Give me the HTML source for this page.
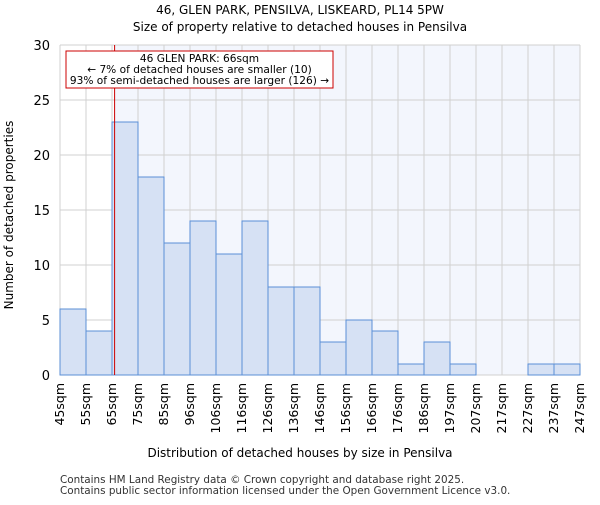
<!DOCTYPE html>
<html><head><meta charset="utf-8"><style>body{margin:0;background:#fff}svg{font-family:"DejaVu Sans","Liberation Sans",sans-serif}</style></head>
<body>
<svg id="c" width="600" height="500"></svg>
<script>
const categories=["45sqm","55sqm","65sqm","75sqm","85sqm","96sqm","106sqm","116sqm","126sqm","136sqm","146sqm","156sqm","166sqm","176sqm","186sqm","197sqm","207sqm","217sqm","227sqm","237sqm","247sqm"];
const counts=[6,4,23,18,12,14,11,14,8,8,3,5,4,1,3,1,0,0,1,1];
const yTicks=[0,5,10,15,20,25,30];
const markerBin=2.1;
const L=60,R=580,T=45,B=375,yMax=30;
const n=counts.length,bw=(R-L)/n;
const x=i=>L+i*bw, y=v=>B-(v/yMax)*(B-T);
const s=document.getElementById('c');const NS='http://www.w3.org/2000/svg';
function el(t,a,txt){const e=document.createElementNS(NS,t);for(const k in a)e.setAttribute(k,a[k]);if(txt!=null)e.textContent=txt;s.appendChild(e);return e;}
const mx=x(markerBin);
let e=el('rect',{x:mx,y:T,width:R-mx,height:B-T,fill:'#f3f6fd'});

for(let i=0;i<=n;i++){e=el('line',{x1:x(i),x2:x(i),y1:T,y2:B,stroke:'#d0d0d0'});}
yTicks.forEach(t=>{e=el('line',{x1:L,x2:R,y1:y(t),y2:y(t),stroke:'#d0d0d0'});
e=el('text',{x:L-10,y:y(t)+5,'text-anchor':'end','font-size':13},t);});
counts.forEach((v,i)=>{if(v>0){e=el('rect',{x:x(i),y:y(v),width:bw,height:B-y(v),fill:'#d6e1f4',stroke:'#5b8fd6'});}});
categories.forEach((c,i)=>{const xx=x(i)+4;e=el('text',{x:0,y:0,transform:`translate(${xx},${B+8}) rotate(-90)`,'text-anchor':'end','font-size':12.5},c);});
e=el('line',{x1:mx,x2:mx,y1:T,y2:B,stroke:'#cc0000','stroke-width':1});
e=el('rect',{x:66,y:51,width:267,height:37,fill:'#fff',stroke:'#cc0000'});
[["46 GLEN PARK: 66sqm",62],["← 7% of detached houses are smaller (10)",73],["93% of semi-detached houses are larger (126) →",84]].forEach(a=>{e=el('text',{x:199.5,y:a[1],'text-anchor':'middle','font-size':10.6},a[0]);});
e=el('text',{x:300,y:14,'text-anchor':'middle','font-size':12},'46, GLEN PARK, PENSILVA, LISKEARD, PL14 5PW');
e=el('text',{x:300,y:31,'text-anchor':'middle','font-size':12},'Size of property relative to detached houses in Pensilva');
e=el('text',{x:300,y:457,'text-anchor':'middle','font-size':12},'Distribution of detached houses by size in Pensilva');
e=el('text',{x:0,y:0,transform:'translate(13,215) rotate(-90)','text-anchor':'middle','font-size':12},'Number of detached properties');
e=el('text',{x:60,y:483,'font-size':10.4,fill:'#333'},'Contains HM Land Registry data © Crown copyright and database right 2025.');
e=el('text',{x:60,y:494,'font-size':10.4,fill:'#333'},'Contains public sector information licensed under the Open Government Licence v3.0.');
</script>
</body></html>
